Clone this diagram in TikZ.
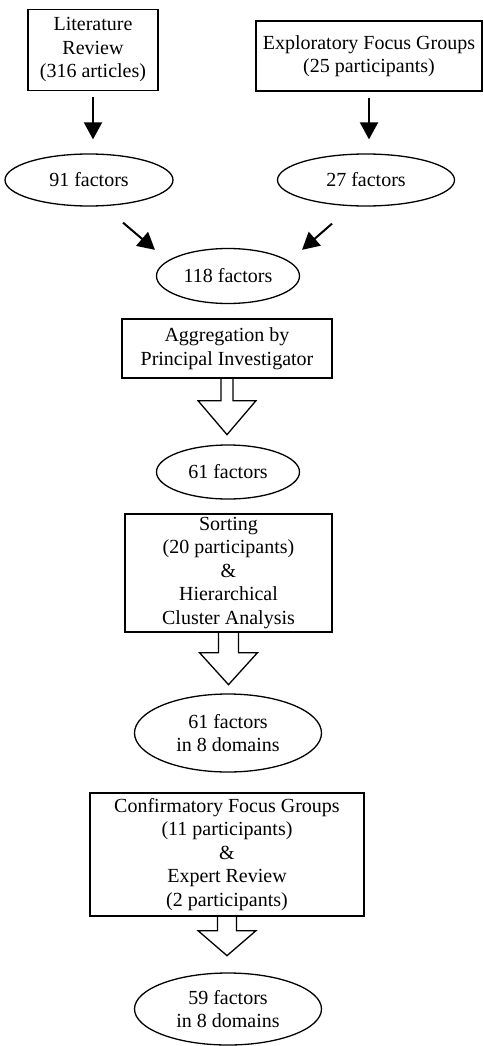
\documentclass[tikz,border=0pt]{standalone}
\usepackage{fontspec}
\setmainfont{Liberation Serif}
\usetikzlibrary{shapes.geometric,arrows.meta,calc}

\begin{document}
\begin{tikzpicture}[x=1pt, y=-1pt,
    font=\fontsize{20}{23.5}\selectfont,
    box/.style={draw, line width=1.3pt, align=center, inner sep=2pt},
    oval/.style={draw, ellipse, line width=1.3pt, align=center, inner sep=1pt},
    arr/.style={line width=2pt, -{Triangle[length=17pt,width=18pt]}},
    fat/.style={draw, line width=1.3pt, line join=miter}]
    \useasboundingbox (0,0) rectangle (484,1046);

    % Sources
    \node[box, minimum width=130, minimum height=81] (lit) at (93,50) {Literature\\Review\\(316 articles)};
    \node[box, minimum width=226, minimum height=70] (efg) at (369,56) {Exploratory Focus Groups\\(25 participants)};

    % Factor counts
    \node[oval, minimum width=168, minimum height=52] (f91) at (89,180) {91 factors};
    \node[oval, minimum width=177, minimum height=52] (f27) at (366,180) {27 factors};
    \node[oval, minimum width=143, minimum height=55] (f118) at (228,276) {118 factors};
    \node[oval, minimum width=143, minimum height=54] (f61) at (228,472) {61 factors};
    \node[oval, minimum width=187, minimum height=78] (f61d) at (228,733) {61 factors\\in 8 domains};
    \node[oval, minimum width=187, minimum height=72] (f59) at (228,1009) {59 factors\\in 8 domains};

    % Steps
    \node[box, minimum width=210, minimum height=59] (agg) at (227,348.5) {Aggregation by\\Principal Investigator};
    \node[box, minimum width=207, minimum height=118] (sort) at (228.5,573) {Sorting\\(20 participants)\\\&\\Hierarchical\\Cluster Analysis};
    \node[box, minimum width=274, minimum height=123] (conf) at (227,854.5) {Confirmatory Focus Groups\\(11 participants)\\\&\\Expert Review\\(2 participants)};

    % Thin arrows
    \draw[arr, shorten <=6pt, shorten >=14pt] (lit.south) -- (lit.south |- f91.north);
    \draw[arr, shorten <=6pt, shorten >=14pt] (efg.south) -- (efg.south |- f27.north);
    \draw[arr] ($(f91.south)+(34,16)$) -- ($(f118.north)+(-73,2)$);
    \draw[arr] ($(f27.south)+(-34,17)$) -- ($(f118.north)+(74,2)$);

    % Block arrows
    \foreach \src/\w/\s/\h in {agg/6/22/34, sort/10/20/32, conf/9.5/14/25}
        \draw[fat] ($(\src.south)+(-\w,0)$) -- ++(0,\s) -- ++({\w-29},0)
            -- ++(29,\h) -- ++(29,-\h) -- ++({\w-29},0) -- ++(0,-\s);
\end{tikzpicture}
\end{document}
